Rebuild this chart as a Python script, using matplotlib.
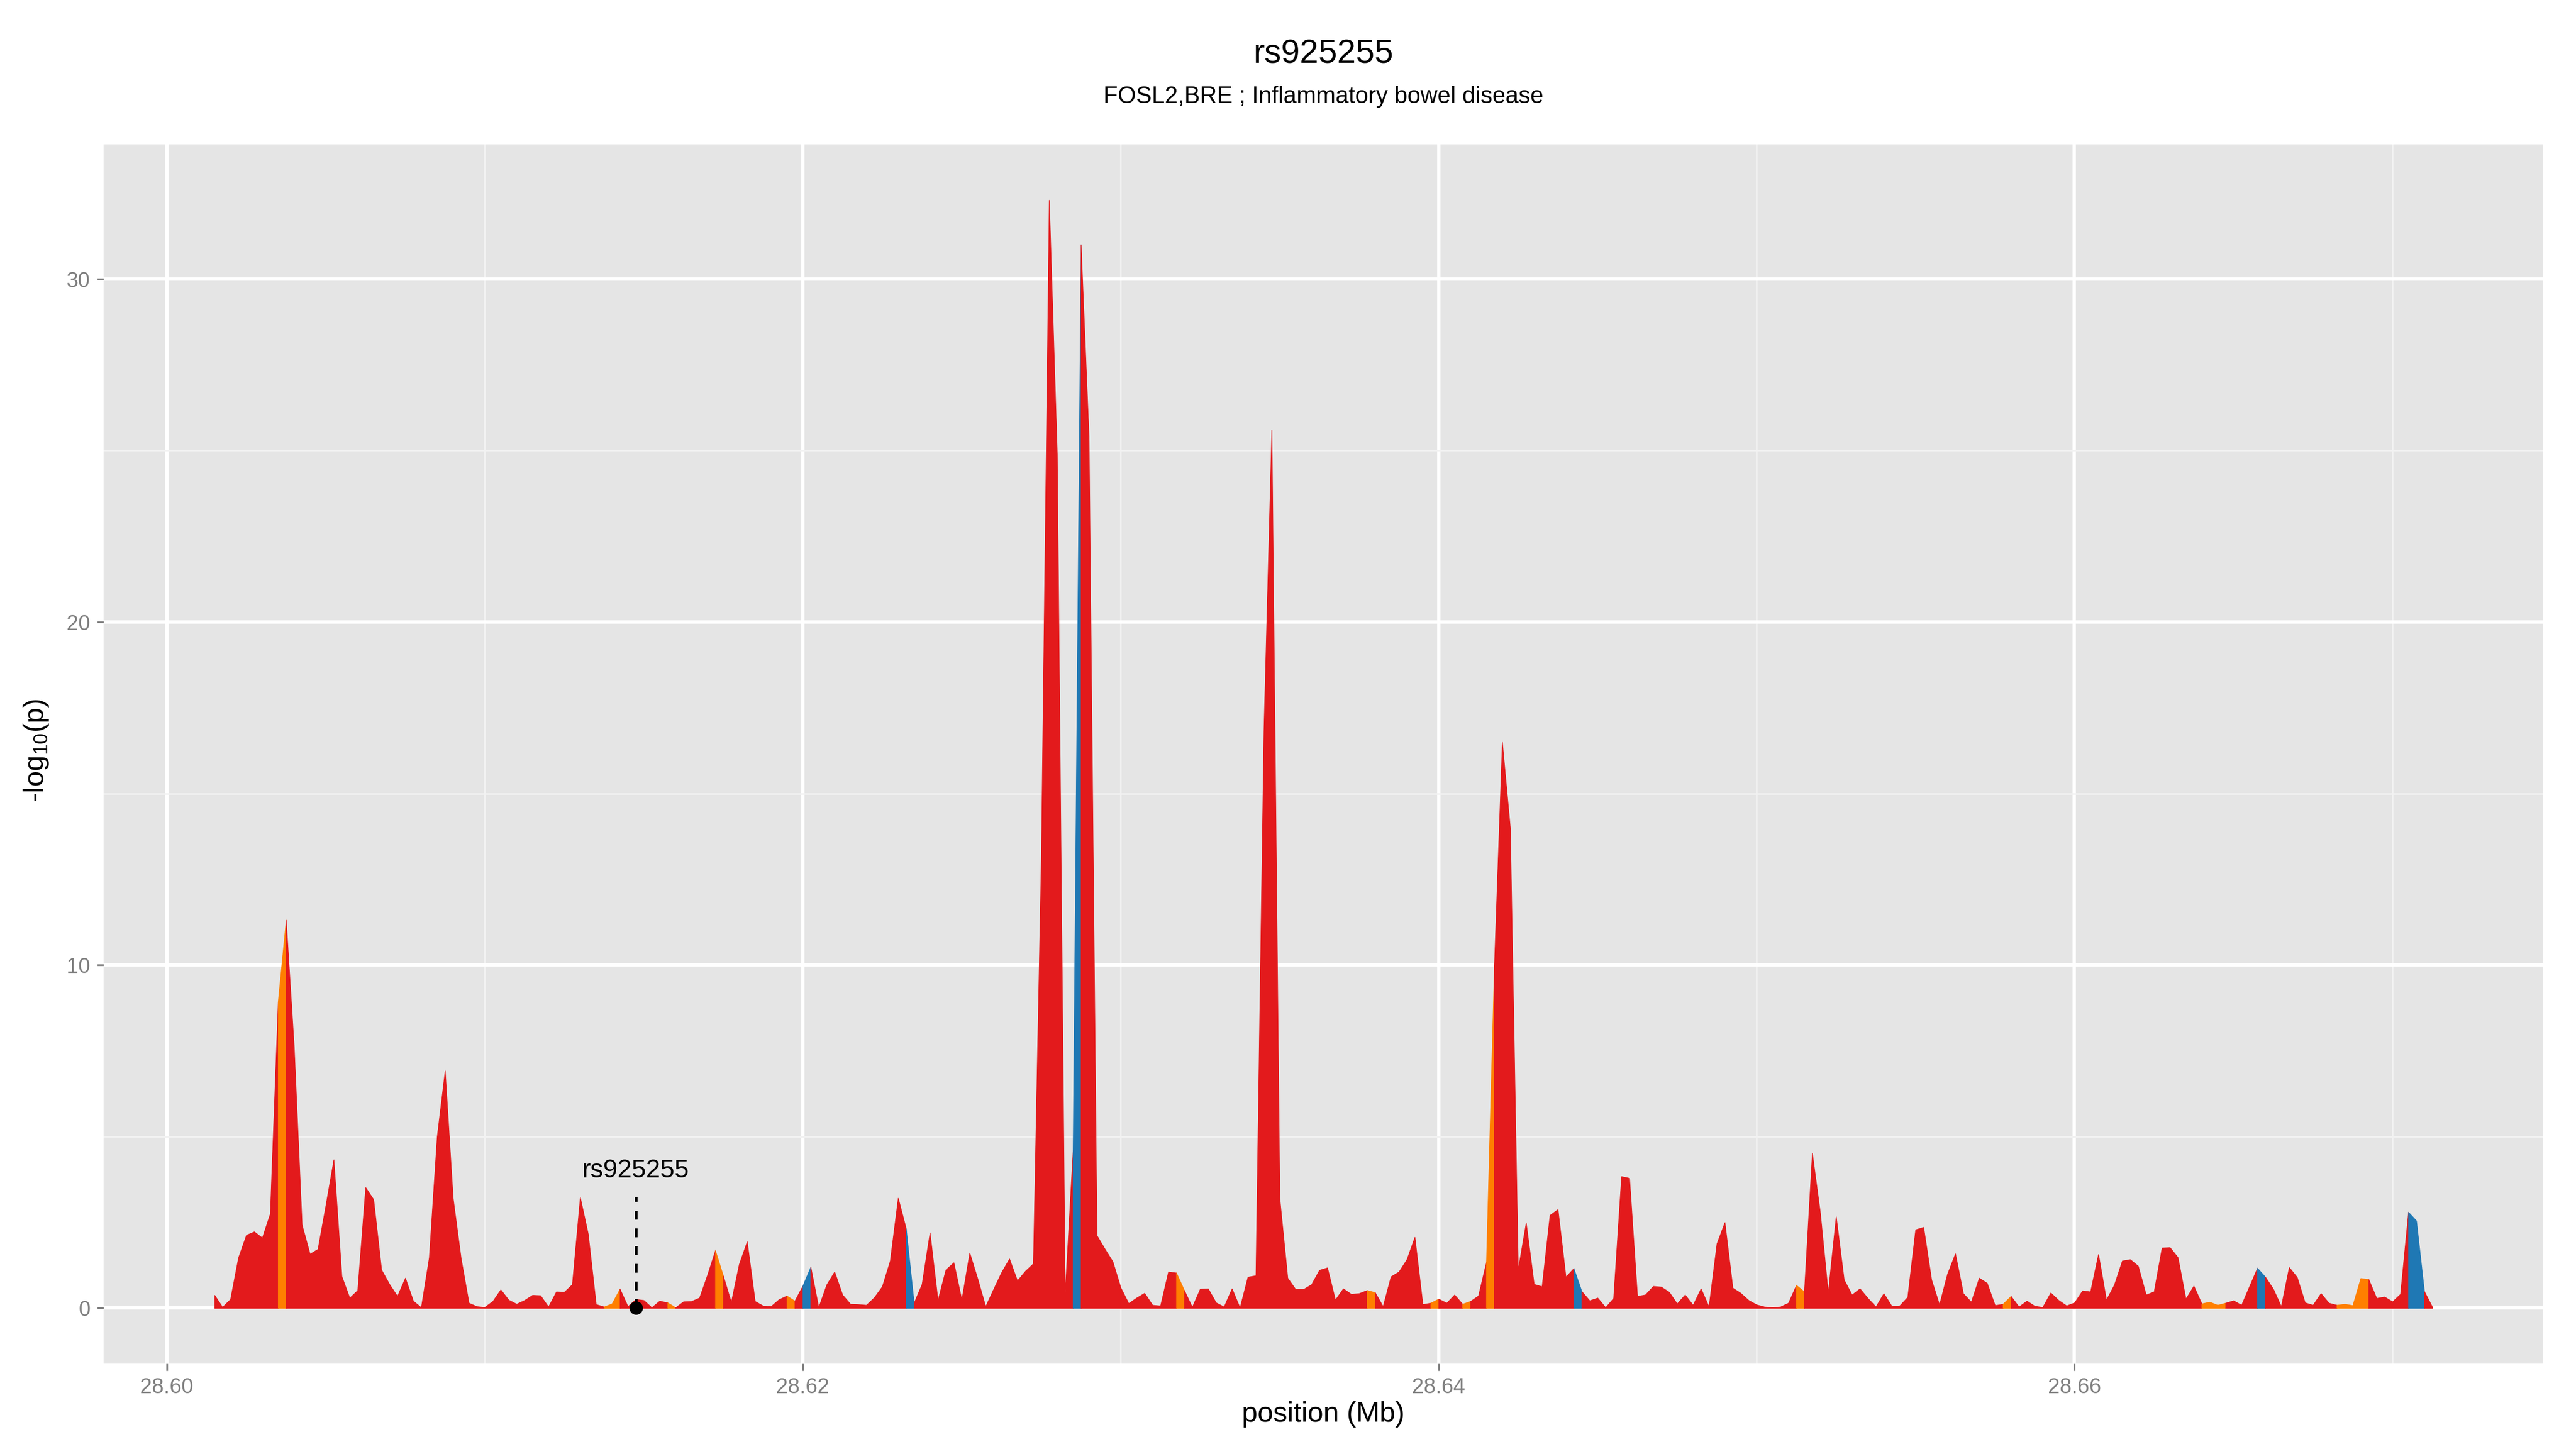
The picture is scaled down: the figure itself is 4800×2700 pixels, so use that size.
import numpy as np
import matplotlib
matplotlib.use("Agg")
import matplotlib.pyplot as plt
from matplotlib.ticker import MultipleLocator, FormatStrFormatter

plt.rcParams['font.family'] = ['Liberation Sans', 'DejaVu Sans']
plt.rcParams['mathtext.default'] = 'regular'

# -log10(p) for SNPs every 250 bp from 28.6015 Mb
pval = [
    0.38, 0.03, 0.26, 1.47, 2.13, 2.23, 2.05, 2.75, 8.94, 11.31,
    7.63, 2.43, 1.58, 1.72, 3.0, 4.33, 0.93, 0.3, 0.52, 3.52,
    3.17, 1.12, 0.7, 0.35, 0.88, 0.21, 0.02, 1.47, 5.0, 6.92,
    3.21, 1.46, 0.15, 0.05, 0.03, 0.2, 0.54, 0.24, 0.12, 0.23,
    0.38, 0.37, 0.04, 0.48, 0.47, 0.69, 3.23, 2.16, 0.11, 0.04,
    0.13, 0.56, 0.05, 0.26, 0.23, 0.02, 0.21, 0.16, 0.02, 0.19,
    0.2, 0.3, 0.96, 1.68, 0.94, 0.17, 1.28, 1.94, 0.2, 0.07,
    0.05, 0.25, 0.36, 0.21, 0.65, 1.2, 0.02, 0.68, 1.06, 0.39,
    0.12, 0.11, 0.09, 0.31, 0.63, 1.38, 3.21, 2.32, 0.15, 0.7,
    2.2, 0.23, 1.12, 1.33, 0.24, 1.61, 0.86, 0.05, 0.55, 1.04,
    1.44, 0.8, 1.08, 1.3, 13.1, 32.3, 24.9, 0.43, 4.6, 31.0,
    25.4, 2.12, 1.73, 1.36, 0.6, 0.14, 0.3, 0.44, 0.09, 0.07,
    1.06, 1.03, 0.52, 0.03, 0.56, 0.57, 0.16, 0.04, 0.57, 0.01,
    0.91, 0.95, 16.8, 25.6, 3.2, 0.88, 0.55, 0.55, 0.69, 1.11,
    1.18, 0.24, 0.57, 0.41, 0.43, 0.52, 0.46, 0.05, 0.92, 1.06,
    1.42, 2.07, 0.11, 0.15, 0.27, 0.15, 0.39, 0.12, 0.2, 0.36,
    1.34, 9.99, 16.5, 14.0, 1.12, 2.49, 0.7, 0.63, 2.71, 2.88,
    0.91, 1.16, 0.49, 0.22, 0.3, 0.02, 0.29, 3.84, 3.79, 0.35,
    0.39, 0.64, 0.62, 0.47, 0.13, 0.39, 0.09, 0.57, 0.04, 1.88,
    2.5, 0.59, 0.44, 0.23, 0.1, 0.04, 0.03, 0.04, 0.15, 0.67,
    0.48, 4.52, 2.79, 0.45, 2.67, 0.83, 0.39, 0.57, 0.29, 0.04,
    0.43, 0.06, 0.07, 0.32, 2.29, 2.36, 0.83, 0.1, 0.99, 1.59,
    0.43, 0.18, 0.88, 0.73, 0.08, 0.12, 0.35, 0.04, 0.21, 0.06,
    0.03, 0.45, 0.23, 0.07, 0.16, 0.51, 0.48, 1.57, 0.24, 0.68,
    1.38, 1.42, 1.23, 0.39, 0.48, 1.76, 1.77, 1.48, 0.27, 0.65,
    0.13, 0.18, 0.09, 0.15, 0.22, 0.09, 0.63, 1.17, 0.91, 0.56,
    0.05, 1.19, 0.9, 0.16, 0.09, 0.43, 0.15, 0.09, 0.12, 0.08,
    0.87, 0.84, 0.29, 0.33, 0.19, 0.41, 2.8, 2.55, 0.49, 0.04,
]
position = 28.6015 + 0.00025 * np.arange(len(pval))

# segments (by start index) that are not in the default red group
orange_segments = [8, 49, 50, 57, 63, 72, 121, 145, 153, 157, 160, 199,
                   225, 250, 251, 252, 267, 268, 269, 270]
blue_segments = [74, 87, 108, 171, 257, 276, 277]

snp_name = "rs925255"
snp_pos = 28.61475
label_height = 3.25

colors = {"red": "#E31A1C", "orange": "#FF7F00", "blue": "#1F78B4"}

seg_group = ["red"] * (len(pval) - 1)
for i in orange_segments:
    seg_group[i] = "orange"
for i in blue_segments:
    seg_group[i] = "blue"

fig = plt.figure(figsize=(16, 9), dpi=300)
ax = fig.add_axes([0.0402, 0.059, 0.9470, 0.8412])
ax.set_facecolor("#E5E5E5")

# fill runs of same-coloured segments
start = 0
for k in range(1, len(seg_group) + 1):
    if k == len(seg_group) or seg_group[k] != seg_group[start]:
        c = colors[seg_group[start]]
        ax.fill_between(position[start:k + 1], pval[start:k + 1], 0,
                        color=c, linewidth=0.3, edgecolor=c, zorder=2)
        start = k

ax.plot([snp_pos, snp_pos], [0, label_height], color="black", lw=1.2,
        linestyle=(0, (3.3, 3.3)), zorder=3)
ax.plot(snp_pos, 0, "o", color="black", markersize=5, zorder=4)
ax.text(snp_pos, label_height + 0.4, snp_name, ha="center", va="bottom",
        fontsize=11.5, zorder=4)

xr = position[-1] - position[0]
ax.set_xlim(position[0] - 0.05 * xr, position[-1] + 0.05 * xr)
ymax = max(pval)
ax.set_ylim(-0.05 * ymax, ymax * 1.05)

ax.xaxis.set_major_locator(MultipleLocator(0.02))
ax.xaxis.set_minor_locator(MultipleLocator(0.01))
ax.xaxis.set_major_formatter(FormatStrFormatter("%.2f"))
ax.yaxis.set_major_locator(MultipleLocator(10))
ax.yaxis.set_minor_locator(MultipleLocator(5))

ax.grid(which="major", color="white", lw=1.5)
ax.grid(which="minor", color="#F2F2F2", lw=0.7)
ax.set_axisbelow(True)
for s in ax.spines.values():
    s.set_visible(False)
ax.tick_params(which="major", length=3, width=0.8, color="#7F7F7F",
               labelcolor="#7F7F7F", labelsize=9.5, pad=3)
ax.tick_params(which="minor", length=0)

cx = 0.0402 + 0.9470 / 2
fig.text(cx, 0.9626, "rs925255", ha="center", va="center", fontsize=15)
fig.text(cx, 0.9331, "FOSL2,BRE ; Inflammatory bowel disease",
         ha="center", va="center", fontsize=10.5)
fig.text(cx, 0.0238, "position (Mb)", ha="center", va="center", fontsize=12.6)
fig.text(0.014, 0.482, "-log$_{10}$(p)", ha="center", va="center",
         rotation=90, fontsize=12.6)

fig.savefig("out.png", dpi=300, facecolor="white")
